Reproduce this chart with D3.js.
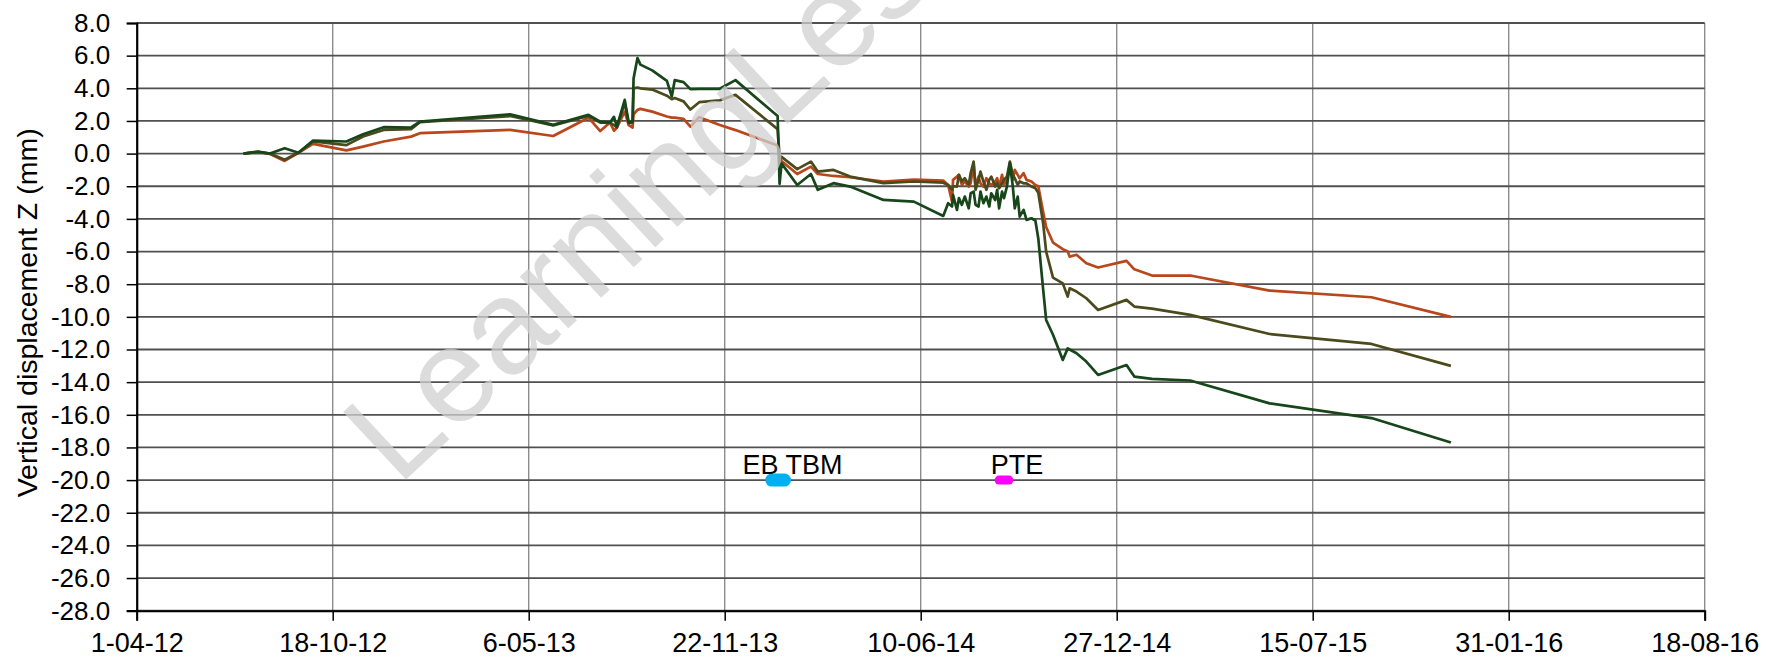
<!DOCTYPE html>
<html>
<head>
<meta charset="utf-8">
<script src="https://cdn.jsdelivr.net/npm/d3@7"></script>
<style>
  html, body { margin: 0; padding: 0; background: #ffffff; }
  svg { display: block; }
</style>
</head>
<body>
<svg id="chart" width="1770" height="664"></svg>
<script>
// ---------------- DATA ----------------
const xTickDates = ["2012-04-01","2012-10-18","2013-05-06","2013-11-22","2014-06-10","2014-12-27","2015-07-15","2016-01-31","2016-08-18"];
const xTickLabels = ["1-04-12","18-10-12","6-05-13","22-11-13","10-06-14","27-12-14","15-07-15","31-01-16","18-08-16"];
const yTicks = [8,6,4,2,0,-2,-4,-6,-8,-10,-12,-14,-16,-18,-20,-22,-24,-26,-28];
const yTitle = "Vertical displacement Z (mm)";

const dates = [
"2012-07-19","2012-08-03","2012-08-15","2012-08-30","2012-09-13","2012-09-28","2012-11-01","2012-11-18","2012-12-09","2013-01-06",
"2013-01-15","2013-04-17","2013-05-31","2013-07-06","2013-07-18","2013-07-28","2013-08-01","2013-08-04","2013-08-12","2013-08-16",
"2013-08-20","2013-08-21","2013-08-25","2013-08-28","2013-09-09","2013-09-24","2013-09-29","2013-10-02","2013-10-11","2013-10-18",
"2013-10-27","2013-11-17","2013-12-03","2014-01-15","2014-01-17","2014-01-19","2014-02-04","2014-02-18","2014-02-25","2014-03-13",
"2014-03-30","2014-05-03","2014-06-03","2014-07-03","2014-07-08","2014-07-12","2014-07-13","2014-07-17","2014-07-19","2014-07-22",
"2014-07-25","2014-07-29","2014-07-31","2014-08-03","2014-08-05","2014-08-08","2014-08-10","2014-08-13","2014-08-16","2014-08-19",
"2014-08-21","2014-08-25","2014-08-27","2014-08-29","2014-09-01","2014-09-03","2014-09-06","2014-09-09","2014-09-12","2014-09-14",
"2014-09-17","2014-09-19","2014-09-23","2014-09-26","2014-10-01","2014-10-05","2014-10-08","2014-10-13","2014-10-16","2014-10-23",
"2014-11-02","2014-11-07","2014-11-09","2014-11-16","2014-11-26","2014-12-08","2015-01-06","2015-01-14","2015-02-01","2015-03-12",
"2015-06-01","2015-09-13","2015-12-03"
];

const pointA = [ // orange-brown
0,0.1,-0.02,-0.45,0.05,0.6,0.2,0.43,0.74,1.04,
1.25,1.45,1.08,2.2,1.38,1.9,1.4,1.6,2.57,1.74,
1.6,2.4,2.68,2.74,2.57,2.27,2.2,2.2,2.13,1.65,
2.23,1.75,1.44,0.5,-0.2,-0.45,-1.25,-0.8,-1.25,-1.37,
-1.45,-1.71,-1.6,-1.65,-1.92,-2.94,-1.61,-1.41,-1.3,-1.92,
-1.71,-2.02,-1.82,-0.6,-2.02,-1.41,-1.82,-2.02,-1.51,-1.82,
-1.92,-1.71,-1.51,-2.02,-1.3,-1.92,-1.61,-0.79,-1.61,-1.0,
-1.3,-1.51,-1.2,-1.61,-1.71,-1.92,-2.0,-3.6,-4.5,-5.45,
-5.85,-6.0,-6.31,-6.2,-6.72,-6.98,-6.57,-7.09,-7.47,-7.47,
-8.39,-8.8,-10.0
];
const pointB = [ // olive
0,0.1,0,-0.38,0.05,0.75,0.52,1.05,1.45,1.5,
1.92,2.3,1.72,2.3,1.9,1.9,1.75,1.6,3.1,1.86,
1.9,4.0,4.05,4.0,3.92,3.55,3.33,3.4,3.2,2.7,
3.15,3.26,3.6,1.5,-0.2,-0.2,-0.95,-0.49,-1.1,-1.0,
-1.41,-1.81,-1.71,-1.78,-1.92,-2.22,-2.0,-2.02,-1.3,-1.7,
-1.51,-1.9,-1.2,-0.49,-2.22,-1.6,-1.1,-1.71,-2.22,-1.6,
-1.41,-2.02,-1.8,-2.12,-1.82,-1.6,-1.41,-0.49,-1.3,-1.51,
-1.92,-1.71,-1.82,-1.82,-2.02,-2.12,-2.4,-4.3,-6.0,-7.6,
-7.95,-8.76,-8.25,-8.45,-8.86,-9.58,-8.96,-9.37,-9.5,-9.88,
-11.05,-11.66,-13.0
];
const pointC = [ // dark green
0,0.12,0,0.33,0.05,0.8,0.74,1.19,1.62,1.6,
1.96,2.41,1.76,2.37,1.95,1.9,2.25,1.65,3.29,1.9,
1.95,4.6,5.85,5.45,5.1,4.45,3.5,4.5,4.38,3.95,
3.97,3.97,4.5,2.3,-1.85,-0.6,-1.92,-1.25,-2.22,-1.81,
-2.02,-2.84,-2.94,-3.82,-3.04,-3.24,-2.53,-3.45,-2.73,-3.14,
-2.63,-3.35,-2.43,-2.33,-3.14,-3.24,-2.33,-3.04,-2.63,-3.24,
-2.43,-2.84,-2.22,-3.35,-2.33,-2.73,-2.02,-0.59,-2.02,-3.35,
-2.63,-3.86,-3.45,-4.06,-3.96,-4.1,-5.2,-8.35,-10.19,-11.1,
-12.64,-11.93,-12.0,-12.23,-12.74,-13.56,-12.95,-13.66,-13.8,-13.9,
-15.3,-16.2,-17.7
];

const ebTbmDates = ["2014-01-09","2014-01-22"];
const ebTbmValues = [-20,-20];
const pteDates = ["2014-08-29","2014-09-08"];
const pteValues = [-20,-20];
const markerNames = ["EB TBM","PTE"];

const watermarkText = "LearningLessons";

// ---------------- CHART ----------------
(function () {
const parse = d3.utcParse("%Y-%m-%d");
const svg = d3.select("#chart");
const W = 1770, H = 664;
const pLeft = 136.7, pRight = 1704.7, pTop = 23, pBottom = 610.7;
const FONT = "'Liberation Sans', Arial, sans-serif";

svg.append("rect").attr("width", W).attr("height", H).attr("fill", "#fff");

const x = d3.scaleUtc()
  .domain([parse(xTickDates[0]), parse(xTickDates[xTickDates.length - 1])])
  .range([pLeft, pRight]);
const y = d3.scaleLinear().domain([-28, 8]).range([pBottom, pTop]);

// vertical gridlines
svg.append("g").selectAll("line")
  .data(xTickDates.slice(1))
  .join("line")
  .attr("x1", d => x(parse(d))).attr("x2", d => x(parse(d)))
  .attr("y1", pTop).attr("y2", pBottom)
  .attr("stroke", "#8c8c8c").attr("stroke-width", 1.4);

// horizontal gridlines
svg.append("g").selectAll("line")
  .data(yTicks)
  .join("line")
  .attr("x1", pLeft).attr("x2", pRight)
  .attr("y1", d => y(d)).attr("y2", d => y(d))
  .attr("stroke", "#505050").attr("stroke-width", 1.8);

// axes
const xAxis = d3.axisBottom(x)
  .tickValues(xTickDates.map(parse))
  .tickFormat((d, i) => xTickLabels[i])
  .tickSize(10).tickPadding(12);
const gx = svg.append("g").attr("transform", `translate(0,${pBottom})`).call(xAxis);
gx.select(".domain").attr("stroke", "#000").attr("stroke-width", 2);
gx.selectAll(".tick line").attr("stroke", "#000").attr("stroke-width", 1.5);
gx.selectAll("text").attr("font-family", FONT).attr("font-size", 27).attr("fill", "#000");

const yAxis = d3.axisLeft(y)
  .tickValues(yTicks)
  .tickFormat(d => d.toFixed(1))
  .tickSize(10).tickPadding(16.5);
const gy = svg.append("g").attr("transform", `translate(${pLeft},0)`).call(yAxis);
gy.select(".domain").attr("stroke", "#000").attr("stroke-width", 2.2);
gy.selectAll(".tick line").attr("stroke", "#000").attr("stroke-width", 1.5);
gy.selectAll("text").attr("font-family", FONT).attr("font-size", 26).attr("fill", "#000");

// y title
svg.append("text")
  .attr("transform", `translate(37,${(pTop + pBottom) / 2 - 4}) rotate(-90)`)
  .attr("text-anchor", "middle")
  .attr("font-family", FONT).attr("font-size", 28.5)
  .attr("fill", "#000")
  .text(yTitle);

// series
const seriesDefs = [
  { values: pointA, color: "#B9471C" },
  { values: pointB, color: "#4B4A1C" },
  { values: pointC, color: "#17461A" }
];
const line = d3.line().x(d => x(d.date)).y(d => y(d.v));
seriesDefs.forEach(s => {
  const pts = dates.map((d, i) => ({ date: parse(d), v: s.values[i] }));
  svg.append("path")
    .datum(pts)
    .attr("d", line)
    .attr("fill", "none")
    .attr("stroke", s.color)
    .attr("stroke-width", 2.7)
    .attr("stroke-linejoin", "round");
});

// event markers
const markers = [
  { dates: ebTbmDates, values: ebTbmValues, color: "#00B0F0", width: 13, name: markerNames[0] },
  { dates: pteDates, values: pteValues, color: "#FF00FF", width: 9, name: markerNames[1] }
];
markers.forEach(m => {
  const pts = m.dates.map((d, i) => ({ date: parse(d), v: m.values[i] }));
  svg.append("path")
    .datum(pts)
    .attr("d", line)
    .attr("fill", "none")
    .attr("stroke", m.color)
    .attr("stroke-width", m.width)
    .attr("stroke-linecap", "round");
  const last = pts[pts.length - 1];
  svg.append("text")
    .attr("x", x(last.date) + 8)
    .attr("y", y(last.v) - 6)
    .attr("text-anchor", "middle")
    .attr("font-family", FONT).attr("font-size", 27)
    .attr("fill", "#000")
    .text(m.name);
});

// watermark
svg.append("text")
  .attr("transform", "translate(398,487) rotate(-43)")
  .attr("font-family", FONT).attr("font-size", 134)
  .attr("fill", "#d0d0d0").attr("fill-opacity", 0.75)
  .text(watermarkText);
})();
</script>
</body>
</html>
